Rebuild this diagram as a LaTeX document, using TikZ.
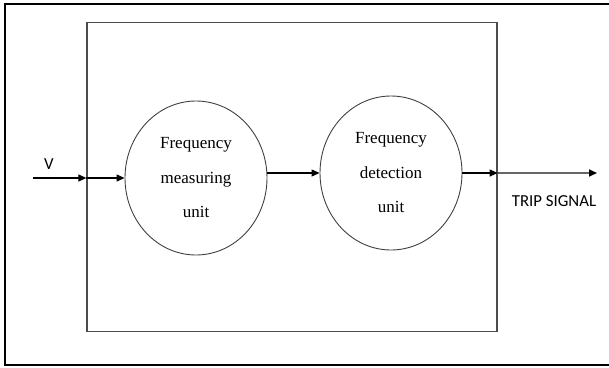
\documentclass[tikz,border=0pt]{standalone}
\usepackage{fontspec}
\setmainfont{Liberation Serif}
\newfontfamily\labelfont{Carlito}
\usetikzlibrary{arrows.meta,positioning,shapes.geometric}

\begin{document}
\begin{tikzpicture}[x=1pt,y=-1pt,
  unit/.style={ellipse,draw=black!75,line width=0.9pt,minimum width=142pt,
               minimum height=154pt,inner sep=0pt,align=center,
               font=\fontsize{17}{34.5}\selectfont},
  flow/.style={-{Triangle[length=8pt,width=7pt]},line width=1.1pt},
  sig/.style={font=\labelfont\fontsize{16.8}{20}\selectfont,inner sep=0pt}
]
\useasboundingbox (0,0) rectangle (609,367);

% Outer frame (runs off the right edge)
\draw[line width=2pt] (620,4) -- (5,4) -- (5,365) -- (620,365);

% Relay box
\node[draw=black!70,line width=1.3pt,minimum width=410pt,minimum height=309pt,
      inner sep=0pt] (relay) at (292,177) {};

% Units
\node[unit] (fmu) at (196,178) {Frequency\\measuring\\unit};
\node[unit] (fdu) at (391,173) {Frequency\\detection\\unit};

% Signal ends
\coordinate (vin) at (33,178);
\coordinate (trip) at (597,173);

% Connectors
\draw[flow] (vin) -- (vin -| relay.west);
\draw[flow] (vin -| relay.west) -- (fmu.west);
\draw[flow] (fmu.east |- fdu) -- (fdu.west);
\draw[flow] (fdu.east) -- (fdu.east -| relay.east);
\draw[-{Triangle[length=8pt,width=7pt,color=black]},line width=1.6pt,black!60]
  (fdu.east -| relay.east) -- (trip);

% Labels
\node[sig] (vlabel) at (49,164) {V};
\node[sig] (triplabel) at (554,201) {TRIP SIGNAL};
\end{tikzpicture}
\end{document}
